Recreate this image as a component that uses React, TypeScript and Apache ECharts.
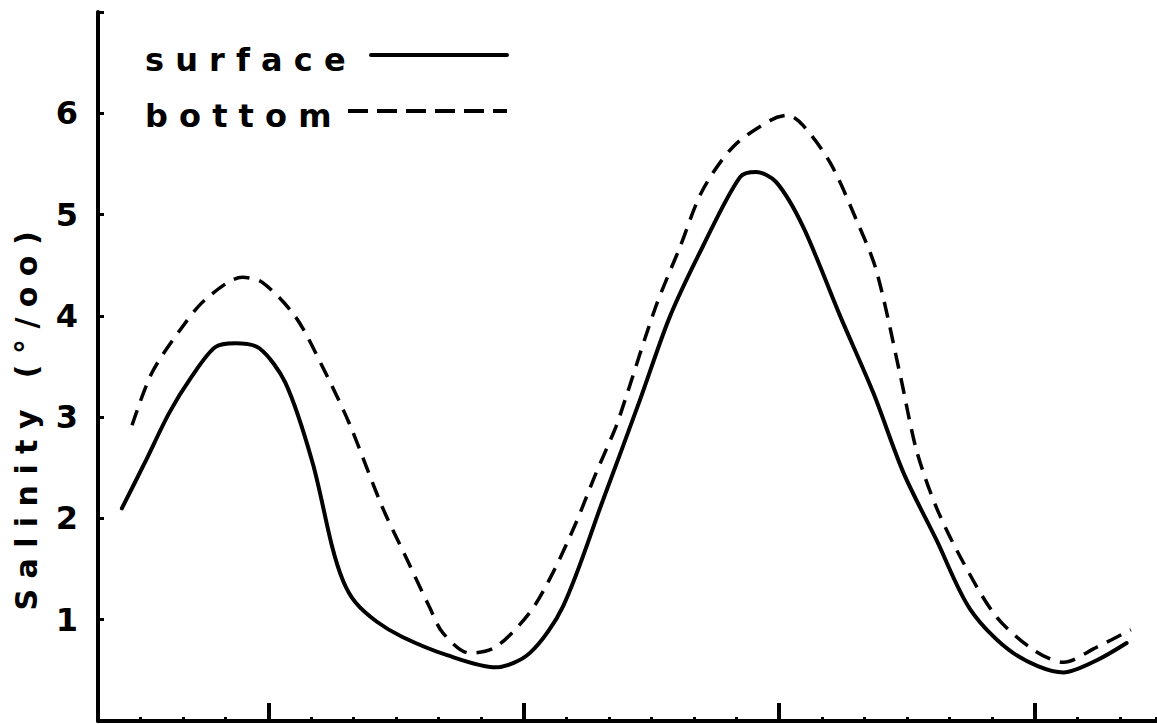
import React, { useEffect, useRef } from "react";
import * as echarts from "echarts";

// Time along the x axis (minor-tick units) and salinity (‰)
const surfaceX = [0.56, 1.1, 1.67, 2.2, 2.75, 3.22, 3.79, 4.4, 5.04, 5.5, 5.76, 6.05, 6.55, 7.15, 8.2, 9.34, 10.14, 10.92, 11.86, 12.73, 13.43, 14.2, 15.08, 15.46, 15.93, 16.56, 17.44, 18.21, 18.92, 19.69, 20.49, 21.5, 22.68, 23.46, 24.16];
const surfaceY = [2.10, 2.55, 3.04, 3.4, 3.69, 3.73, 3.68, 3.34, 2.55, 1.72, 1.38, 1.17, 0.98, 0.83, 0.65, 0.53, 0.67, 1.13, 2.18, 3.17, 3.99, 4.68, 5.37, 5.42, 5.32, 4.88, 3.99, 3.24, 2.45, 1.79, 1.10, 0.67, 0.48, 0.60, 0.77];

const bottomX = [0.8, 1.27, 1.98, 2.52, 3.39, 3.86, 4.64, 5.27, 5.9, 6.68, 7.23, 7.78, 8.1, 8.73, 9.34, 10.14, 10.68, 11.22, 11.7, 12.16, 12.38, 13.1, 13.67, 14.2, 14.92, 15.79, 16.2, 16.56, 17.2, 17.81, 18.28, 18.85, 19.22, 19.69, 20.33, 21.1, 21.98, 22.68, 23.46, 24.26];
const bottomY = [2.92, 3.44, 3.89, 4.16, 4.38, 4.33, 3.99, 3.50, 2.94, 2.11, 1.62, 1.13, 0.87, 0.67, 0.73, 1.07, 1.46, 1.95, 2.45, 2.9, 3.17, 4.09, 4.68, 5.24, 5.67, 5.93, 5.98, 5.88, 5.51, 4.95, 4.45, 3.40, 2.68, 2.11, 1.56, 1.03, 0.70, 0.58, 0.73, 0.90];

const majorTicks = [4, 10, 16, 22];
const yTickLabels = ["", "1", "2", "3", "4", "5", "6", ""];

const seriesNames = ["surface", "bottom"];
const yTitle = "S a l i n i t y   ( ° / o o )";

export default function App() {
  const ref = useRef<HTMLDivElement>(null);

  useEffect(() => {
    if (!ref.current) return;
    const chart = echarts.init(ref.current, null, { renderer: "svg" });
    const font = '"DejaVu Sans", sans-serif';
    const black = "#000";

    const option: any = {
      animation: false,
      backgroundColor: "#fff",
      grid: { left: 98, right: 1, top: 12, bottom: 3, containLabel: false },
      xAxis: [
        {
          type: "value",
          min: 0,
          max: 24.85,
          interval: 1,
          axisLine: { show: true, lineStyle: { color: black, width: 4 } },
          axisTick: { show: true, inside: true, length: 4, lineStyle: { color: black, width: 3 } },
          axisLabel: { show: false },
          splitLine: { show: false },
        },
        {
          type: "value",
          min: 0,
          max: 24.85,
          position: "bottom",
          axisLine: { show: false },
          axisTick: {
            show: true,
            inside: true,
            length: 18,
            customValues: majorTicks,
            lineStyle: { color: black, width: 4 },
          },
          axisLabel: { show: false },
          splitLine: { show: false },
        },
      ],
      yAxis: {
        type: "value",
        min: 0,
        max: 7,
        interval: 1,
        axisLine: { show: true, lineStyle: { color: black, width: 4 } },
        axisTick: { show: true, inside: true, length: 6, lineStyle: { color: black, width: 3 } },
        axisLabel: {
          margin: 20,
          color: black,
          fontFamily: font,
          fontWeight: "bold",
          fontSize: 32,
          formatter: (v: number) => yTickLabels[Math.round(v)] ?? "",
        },
        splitLine: { show: false },
      },
      series: [
        {
          name: seriesNames[0],
          type: "line",
          xAxisIndex: 0,
          data: surfaceX.map((x, i) => [x, surfaceY[i]]),
          smooth: 0.3,
          showSymbol: false,
          symbol: "none",
          lineStyle: { color: black, width: 4, type: "solid", cap: "round" },
        },
        {
          name: seriesNames[1],
          type: "line",
          xAxisIndex: 0,
          data: bottomX.map((x, i) => [x, bottomY[i]]),
          smooth: 0.3,
          showSymbol: false,
          symbol: "none",
          lineStyle: { color: black, width: 3.5, type: [16, 10] },
        },
      ],
      graphic: [
        {
          type: "text",
          x: 145,
          y: 60,
          style: {
            text: "s u r f a c e",
            font: `bold 32px ${font}`,
            fill: black,
            align: "left",
            verticalAlign: "middle",
          },
        },
        {
          type: "text",
          x: 145,
          y: 116,
          style: {
            text: "b o t t o m",
            font: `bold 32px ${font}`,
            fill: black,
            align: "left",
            verticalAlign: "middle",
          },
        },
        {
          type: "line",
          shape: { x1: 371, y1: 55, x2: 507, y2: 55 },
          style: { stroke: black, lineWidth: 4, lineCap: "round" },
        },
        {
          type: "line",
          shape: { x1: 348, y1: 111, x2: 507, y2: 111 },
          style: { stroke: black, lineWidth: 4, lineDash: [20, 9] },
        },
        {
          type: "text",
          x: 26,
          y: 421,
          rotation: Math.PI / 2,
          style: {
            text: yTitle,
            font: `bold 30px ${font}`,
            fill: black,
            align: "center",
            verticalAlign: "middle",
          },
        },
      ],
    };

    chart.setOption(option);
    return () => chart.dispose();
  }, []);

  return (
    <div
      ref={ref}
      style={{ position: "fixed", left: 0, top: 0, width: 1157, height: 724, background: "#fff" }}
    />
  );
}
